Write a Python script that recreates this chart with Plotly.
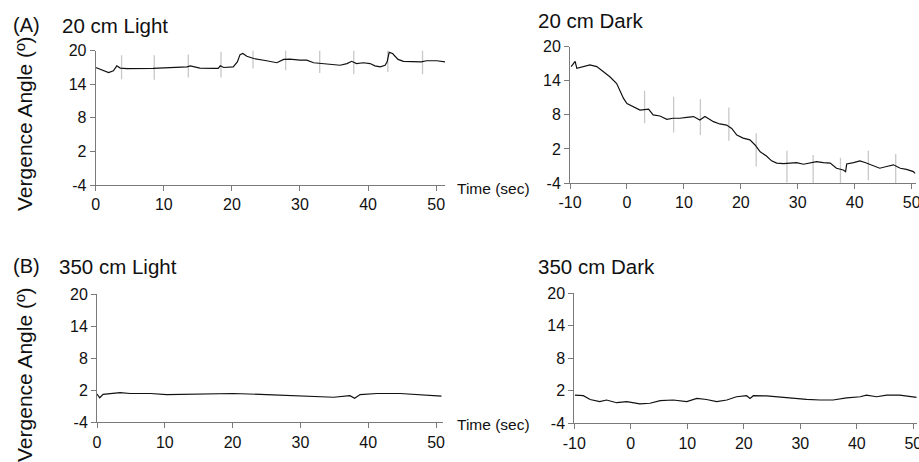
import plotly.graph_objects as go

# ---------------- data ----------------
# 20 cm Light
l20_t = [0, 0.6, 1.9, 2.6, 3.1, 3.6, 4.6, 8.4, 10.4, 13.4, 13.9, 15.3, 17.3, 18.0, 18.3, 18.8, 20.2,
         20.8, 21.2, 21.6, 22.2, 23.2, 25.1, 26.6, 27.6, 28.5, 30.0, 31.0, 32.0, 33.4, 34.9, 35.9,
         36.9, 37.6, 38.3, 39.3, 40.3, 41.0, 41.8, 42.5, 42.8, 43.1, 43.6, 44.4, 45.2, 46.6, 47.8,
         48.6, 50.1, 51.3]
l20_v = [17.0, 16.7, 16.1, 16.4, 17.3, 16.9, 16.8, 16.85, 16.9, 17.1, 17.3, 16.9, 16.85, 16.85, 17.3, 17.0, 17.1,
         18.0, 19.3, 19.5, 19.0, 18.6, 18.2, 17.85, 18.45, 18.5, 18.3, 18.3, 17.85, 17.7, 17.6, 17.4,
         17.7, 18.1, 17.7, 17.85, 17.7, 17.3, 17.1, 17.4, 18.0, 19.7, 19.5, 18.45, 18.1, 18.0, 18.0,
         18.2, 18.2, 18.0]
l20_mark_t = [3.8, 8.6, 13.6, 18.4, 23.1, 27.9, 32.9, 37.9, 42.9, 48.0]
l20_mark_lo = [14.9, 14.8, 15.2, 15.2, 16.8, 16.5, 16.0, 15.8, 16.2, 15.8]
l20_mark_hi = [19.2, 19.2, 19.3, 19.8, 21.0, 20.7, 20.1, 20.1, 20.1, 20.1]

# 20 cm Dark
d20_t = [-9.8, -9.1, -8.8, -7.7, -6.5, -5.3, -4.1, -3.0, -1.8, -1.2, -0.6, 0.0, 1.1, 2.3, 3.8, 4.6, 5.8,
         7.0, 8.1, 9.3, 10.5, 11.7, 12.8, 13.7, 15.2, 16.3, 17.5, 18.4, 19.3, 20.4, 21.6, 22.5, 23.4,
         24.5, 25.4, 26.3, 27.5, 28.6, 29.8, 31.0, 32.2, 33.3, 34.5, 35.7, 36.8, 38.0, 38.4, 38.6,
         39.8, 40.9, 41.8, 43.0, 44.4, 45.6, 46.8, 48.0, 49.1, 50.3, 50.6]
d20_v = [16.5, 17.4, 16.2, 16.5, 16.8, 16.5, 15.6, 14.7, 13.5, 12.1, 10.9, 10.0, 9.4, 8.85, 9.0, 8.0, 7.8,
         7.2, 7.4, 7.4, 7.55, 7.7, 7.1, 7.7, 6.8, 6.4, 6.2, 5.6, 4.45, 3.9, 3.6, 2.7, 1.5,
         0.75, -0.1, -0.5, -0.6, -0.5, -0.4, -0.7, -0.5, -0.25, -0.4, -0.5, -1.4, -1.7, -2.0, -0.65,
         -0.4, -0.1, -0.4, -0.8, -1.4, -1.1, -0.8, -1.4, -1.6, -2.0, -2.3]
d20_mark_t = [3.1, 8.2, 12.9, 17.9, 22.7, 28.1, 32.7, 37.5, 42.4, 47.2]
d20_mark_lo = [6.5, 4.9, 4.45, 3.45, -1.1, -3.9, -4.0, -4.0, -3.5, -4.0]
d20_mark_hi = [12.25, 11.2, 10.8, 9.3, 4.74, 1.69, 0.93, 0.46, 1.69, 1.1]

# 350 cm Light
l350_t = [0, 0.4, 0.9, 1.9, 3.4, 4.9, 7.9, 10.3, 15.2, 20.1, 25.0, 29.9, 32.4, 34.9, 37.3, 38.0, 38.8,
          41.3, 44.7, 47.2, 50.8]
l350_v = [1.3, 0.6, 1.25, 1.4, 1.55, 1.4, 1.4, 1.2, 1.25, 1.4, 1.2, 0.95, 0.7, 0.7, 1.0, 0.5, 1.2,
          1.4, 1.4, 1.2, 0.9]

# 350 cm Dark
d350_t = [-9.9, -8.4, -7.2, -5.5, -4.3, -2.5, -0.7, 1.6, 3.4, 5.2, 7.5, 9.9, 11.7, 13.4, 15.2, 17.0,
          18.7, 20.5, 21.1, 21.7, 24.0, 26.4, 28.8, 31.1, 33.5, 35.8, 38.2, 40.6, 41.7, 43.5, 45.3,
          47.6, 50.6]
d350_v = [1.2, 1.1, 0.4, 0.0, 0.3, -0.2, 0.0, -0.4, -0.3, 0.2, 0.3, 0.0, 0.6, 0.4, 0.0, 0.3,
          0.9, 1.1, 0.6, 1.1, 1.05, 0.8, 0.55, 0.4, 0.3, 0.3, 0.7, 0.9, 1.2, 0.9, 1.2,
          1.2, 0.8]

y_ticks = [-4, 2, 8, 14, 20]
y_tick_labels = ["-4", "2", "8", "14", "20"]
x_ticks_light = [0, 10, 20, 30, 40, 50]
x_tick_labels_light = ["0", "10", "20", "30", "40", "50"]
x_ticks_dark = [-10, 0, 10, 20, 30, 40, 50]
x_tick_labels_dark = ["-10", "0", "10", "20", "30", "40", "50"]

panel_titles = ["20 cm Light", "20 cm Dark", "350 cm Light", "350 cm Dark"]
panel_letters = ["(A)", "(B)"]
y_title = "Vergence Angle (º)"
x_title = "Time (sec)"

# ---------------- figure ----------------
W, H = 919, 462
FONT = "Liberation Sans, Arial, sans-serif"


def px_x(p):
    return p / W


def px_y(p):
    return 1 - p / H


def seg(ts, lo, hi):
    xs, ys = [], []
    for t, a, b in zip(ts, lo, hi):
        xs += [t, t, None]
        ys += [a, b, None]
    return xs, ys


fig = go.Figure()

panels = [
    (l20_t, l20_v, (l20_mark_t, l20_mark_lo, l20_mark_hi), "", [0, 51.3],
     (x_ticks_light, x_tick_labels_light), (95.7, 445.0), (50.7, 185.0)),
    (d20_t, d20_v, (d20_mark_t, d20_mark_lo, d20_mark_hi), "2", [-10, 50.8],
     (x_ticks_dark, x_tick_labels_dark), (570.0, 916.2), (46.7, 183.0)),
    (l350_t, l350_v, None, "3", [0, 51],
     (x_ticks_light, x_tick_labels_light), (97.0, 442.8), (294.3, 422.3)),
    (d350_t, d350_v, None, "4", [-10, 50.6],
     (x_ticks_dark, x_tick_labels_dark), (574.3, 916.7), (293.3, 423.3)),
]

for t, v, marks, sfx, xr, (xt, xtl), xpx, ypx in panels:
    xa = "x" + sfx
    ya = "y" + sfx
    if marks is not None:
        mx, my = seg(*marks)
        fig.add_trace(go.Scatter(x=mx, y=my, mode="lines", xaxis=xa, yaxis=ya,
                                 line=dict(color="#c8c8c8", width=1.3), hoverinfo="skip",
                                 showlegend=False))
    fig.add_trace(go.Scatter(x=t, y=v, mode="lines", xaxis=xa, yaxis=ya,
                             line=dict(color="#111111", width=1.2), showlegend=False))
    axis_common = dict(showgrid=False, zeroline=False, showline=True, linecolor="#7a7a7a",
                       linewidth=1, ticks="outside", ticklen=5, tickcolor="#7a7a7a",
                       automargin=False, ticklabeloverflow="allow",
                       tickfont=dict(family=FONT, size=16, color="#111"))
    fig.layout["xaxis" + sfx] = dict(
        axis_common, domain=[px_x(xpx[0]), px_x(xpx[1])], range=xr, tickmode="array",
        tickvals=xt, ticktext=xtl, anchor=ya)
    fig.layout["yaxis" + sfx] = dict(
        axis_common, domain=[px_y(ypx[1]), px_y(ypx[0])], range=[-4, 20], tickmode="array",
        tickvals=y_ticks, ticktext=y_tick_labels, anchor=xa)

annotations = []


def txt(x, y, s, size, xanchor="left", angle=0):
    annotations.append(dict(x=px_x(x), y=px_y(y), xref="paper", yref="paper", text=s,
                            showarrow=False, xanchor=xanchor, yanchor="middle", textangle=angle,
                            borderpad=0, font=dict(family=FONT, size=size, color="#111")))


txt(12, 25, panel_letters[0], 20)
txt(61, 25, panel_titles[0], 20.5)
txt(537, 21, panel_titles[1], 20.5)
txt(12, 266, panel_letters[1], 20)
txt(58, 266, panel_titles[2], 20.5)
txt(537, 266, panel_titles[3], 20.5)
txt(24, 124, y_title, 21, xanchor="center", angle=-90)
txt(24, 375, y_title, 21, xanchor="center", angle=-90)
txt(493, 188, x_title, 15.5, xanchor="center")
txt(493, 424, x_title, 15.5, xanchor="center")

fig.update_layout(template="none", width=W, height=H, margin=dict(l=0, r=0, t=0, b=0, pad=0),
                  paper_bgcolor="white", plot_bgcolor="white", annotations=annotations,
                  showlegend=False)

fig.write_html("out.html", config={"displayModeBar": False},
               post_script="document.body.style.margin='0';document.body.style.overflow='hidden';")
